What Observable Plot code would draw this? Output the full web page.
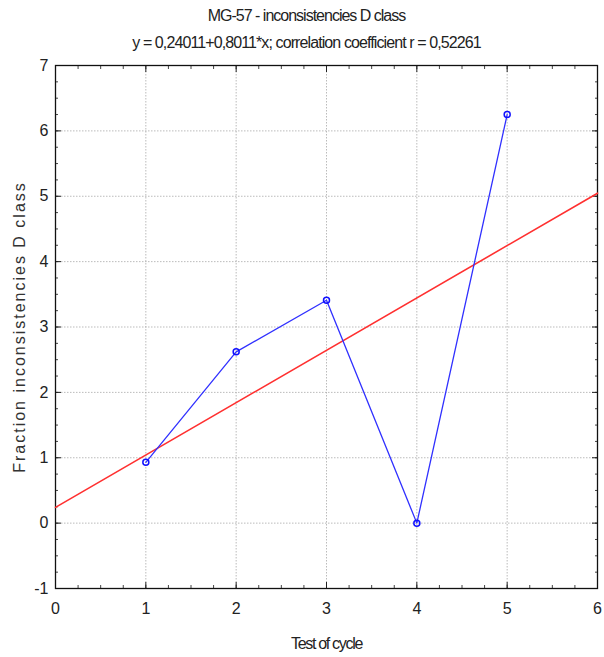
<!DOCTYPE html>
<html>
<head>
<meta charset="utf-8">
<script src="https://cdn.jsdelivr.net/npm/d3@7"></script>
<script src="https://cdn.jsdelivr.net/npm/@observablehq/plot@0.6"></script>
<style>
  html, body { margin: 0; padding: 0; background: #fff; }
  #chart { width: 604px; height: 657px; }
</style>
</head>
<body>
<div id="chart"></div>
<script>
// ---- data ----
const cycles = [1, 2, 3, 4, 5];
const fractions = [0.93, 2.62, 3.41, 0.0, 6.25];
const intercept = 0.24011;
const slope = 0.8011;
const xTicks = [0, 1, 2, 3, 4, 5, 6];
const yTicks = [-1, 0, 1, 2, 3, 4, 5, 6, 7];
const xMinorStep = 0.25;
const yMinorStep = 0.25;
const titleText = "MG-57 - inconsistencies D class";
const subtitleText = "y = 0,24011+0,8011*x; correlation coefficient r = 0,52261";
const xLabel = "Test of cycle";
const yLabel = "Fraction inconsistencies D class";

// ---- derived tables ----
const points = cycles.map((c, i) => ({x: c, y: fractions[i]}));
const fitLine = [xTicks[0], xTicks[xTicks.length - 1]].map(x => ({x, y: intercept + slope * x}));
const xMinor = d3.range(xTicks[0], xTicks[xTicks.length - 1] + 1e-9, xMinorStep);
const yMinor = d3.range(yTicks[0], yTicks[yTicks.length - 1] + 1e-9, yMinorStep);

const sans = "'Liberation Sans', Arial, sans-serif";
const plain = d => String(d);
const tickOnly = (anchor, ticks, size, stroke) =>
  (anchor === "bottom" || anchor === "top" ? Plot.axisX : Plot.axisY)(ticks, {anchor, tickSize: size, stroke, fill: "none", label: null});

const chart = Plot.plot({
  width: 604,
  height: 657,
  marginLeft: 55,
  marginRight: 7,
  marginTop: 65,
  marginBottom: 69,
  style: {fontFamily: sans, fontSize: "15px", color: "#222", background: "#fff"},
  x: {domain: [0, 6]},
  y: {domain: [-1, 7]},
  marks: [
    Plot.gridX(xTicks, {stroke: "#aaa", strokeOpacity: 0.8, strokeDasharray: "1.5,1.5"}),
    Plot.gridY(yTicks, {stroke: "#aaa", strokeOpacity: 0.8, strokeDasharray: "1.5,1.5"}),
    // minor ticks (inward)
    tickOnly("bottom", xMinor, -3, "#444"),
    tickOnly("top", xMinor, -3, "#444"),
    tickOnly("left", yMinor, -3, "#444"),
    tickOnly("right", yMinor, -3, "#444"),
    // major ticks (inward)
    tickOnly("bottom", xTicks, -6, "#222"),
    tickOnly("top", xTicks, -6, "#222"),
    tickOnly("left", yTicks, -6, "#222"),
    tickOnly("right", yTicks, -6, "#222"),
    // tick labels
    Plot.axisX(xTicks, {anchor: "bottom", tickSize: 0, tickPadding: 14, fontSize: 16, fill: "#222", label: null, tickFormat: plain}),
    Plot.axisY(yTicks, {anchor: "left", tickSize: 0, tickPadding: 7, fontSize: 16, fill: "#222", label: null, tickFormat: plain}),
    Plot.frame({stroke: "#111", strokeWidth: 1.3}),
    // fit line
    Plot.line(fitLine, {x: "x", y: "y", stroke: "#ff3030", strokeWidth: 1.6}),
    // data
    Plot.line(points, {x: "x", y: "y", stroke: "#3030ff", strokeWidth: 1.3}),
    Plot.dot(points, {x: "x", y: "y", r: 3, stroke: "#1010ff", strokeWidth: 1.5, fill: "none"}),
    // titles
    Plot.text([titleText], {frameAnchor: "top", lineAnchor: "middle", dx: -20, dy: -50, fontSize: 16, fill: "#222"}),
    Plot.text([subtitleText], {frameAnchor: "top", lineAnchor: "middle", dx: -20, dy: -23, fontSize: 16, fill: "#222"}),
    Plot.text([xLabel], {frameAnchor: "bottom", lineAnchor: "middle", dy: 55, fontSize: 16, fill: "#222"}),
    Plot.text([yLabel], {frameAnchor: "left", textAnchor: "middle", lineAnchor: "middle", dx: -36, rotate: -90, fontSize: 16, fill: "#333"})
  ]
});
// spacing tweaks to approximate the condensed / spaced fonts of the original
const spacing = new Map([[titleText, "-1px"], [subtitleText, "-0.9px"], [xLabel, "-1.3px"], [yLabel, "2px"]]);
d3.select(chart).selectAll("text").each(function() {
  const s = spacing.get(this.textContent);
  if (s) this.style.letterSpacing = s;
});
document.getElementById("chart").appendChild(chart);
</script>
</body>
</html>
